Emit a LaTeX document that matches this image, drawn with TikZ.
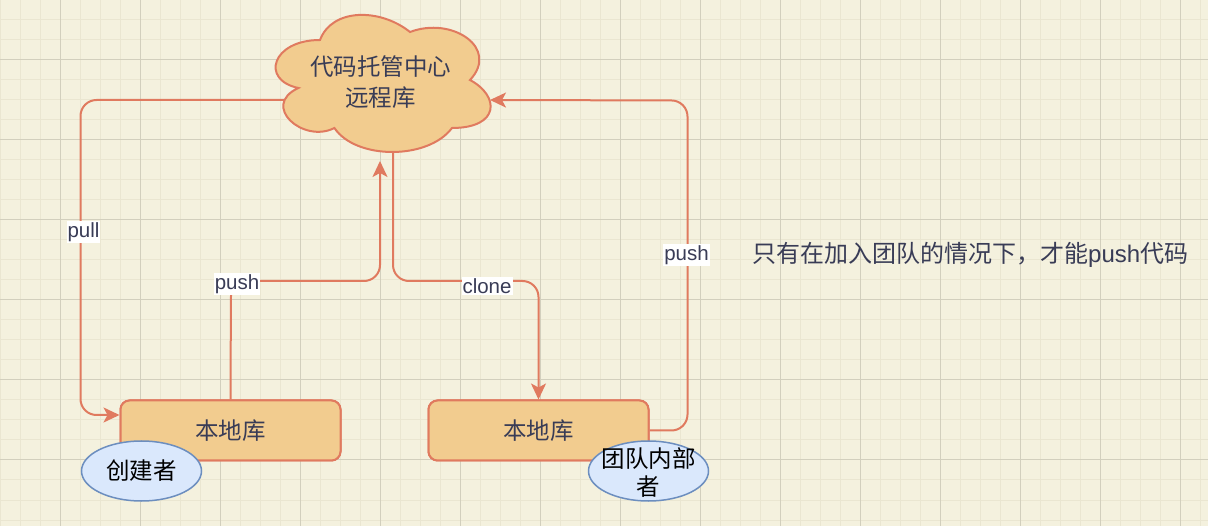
\documentclass[tikz,border=0pt]{standalone}
\usepackage{fontspec}
\setmainfont{Liberation Sans}
\newfontfamily\cjk{Noto Sans CJK SC}
\usetikzlibrary{arrows.meta,shapes.geometric,calc}
\definecolor{bgc}{HTML}{F4F1DE}
\definecolor{minorc}{HTML}{EAE6D1}
\definecolor{majorc}{HTML}{D2CFBD}
\definecolor{linec}{HTML}{E07A5F}
\definecolor{boxc}{HTML}{F2CC8F}
\definecolor{txtc}{HTML}{393C56}
\definecolor{ellf}{HTML}{DAE8FC}
\definecolor{elld}{HTML}{6C8EBF}
\begin{document}
\begin{tikzpicture}[x=1pt,y=-1pt,
  conn/.style={draw=linec, line width=2pt, rounded corners=16pt},
  arr/.style={-{Stealth[length=16pt,width=15pt,inset=4pt]}},
  lbl/.style={fill=white, inner sep=1pt, text=txtc, font=\fontsize{20.5}{24}\selectfont},
  localbox/.style={draw=linec, fill=boxc, line width=2pt, rounded corners=9pt,
    minimum width=220pt, minimum height=60pt, inner sep=0pt, text=txtc,
    font=\cjk\fontsize{23.5}{28}\selectfont},
  role/.style={ellipse, draw=elld, fill=ellf, line width=1.5pt, minimum width=120pt,
    minimum height=60pt, inner sep=0pt},
  roletext/.style={text=black, align=center, inner sep=0pt,
    font=\cjk\fontsize{23.5}{28}\selectfont},
  note/.style={text=txtc, font=\fontsize{24}{28}\selectfont, inner sep=0pt}
]
% background and grid
\fill[bgc] (0,0) rectangle (1208,526);
\useasboundingbox (0,0) rectangle (1208,526);
\foreach \x in {0,20,...,1200} \draw[minorc, line width=1pt] (\x,0) -- (\x,526);
\foreach \y in {0,20,...,520} \draw[minorc, line width=1pt] (0,\y) -- (1208,\y);
\foreach \x in {60,140,...,1180} \draw[majorc, line width=1pt] (\x,0) -- (\x,526);
\foreach \y in {60,140,...,460} \draw[majorc, line width=1pt] (0,\y) -- (1208,\y);

% nodes
\node[localbox] (lbox) at (230.5,430.5) {本地库};
\node[localbox] (rbox) at (538.5,430.5) {本地库};
\node[minimum width=240pt, minimum height=160pt, inner sep=0pt] (cloud) at (380,80) {};
\coordinate (cloudL) at (286,100);
\coordinate (cloudR) at (490,100);
\coordinate (cloudB1) at (380,161);
\coordinate (cloudB2) at (393,148);

% connectors (drawn under the shapes)
\draw[conn,arr] (cloudL) -- (80.5,100) -- (80.5,415) -- ($(lbox.west)+(0,-15.5)$);
\draw[conn,arr] (lbox.north) -- (231,281) -- (380,281) -- (cloudB1);
\draw[conn,arr] (cloudB2) -- (393,281) -- (538.5,281) -- (rbox.north);
\draw[conn,arr] (rbox.east) -- (687.5,430.5) -- (687.5,100.5) -- (cloudR);

% cloud shape
\filldraw[draw=linec, fill=boxc, line width=2pt]
  (320,40) .. controls (272,40) and (260,80) .. (298.4,88)
  .. controls (260,105.6) and (303.2,144) .. (334.4,128)
  .. controls (356,160) and (428,160) .. (452,128)
  .. controls (500,128) and (500,96) .. (470,80)
  .. controls (500,48) and (452,16) .. (410,32)
  .. controls (380,8) and (332,8) .. (320,40) -- cycle;
\node[text=txtc, align=center, font=\cjk\fontsize{23.5}{31}\selectfont, inner sep=0pt] (cloudtext) at (380.5,82) {代码托管中心\\远程库};

% redraw box fills on top of connector ends
\node[localbox] at (lbox) {本地库};
\node[localbox] at (rbox) {本地库};

% roles
\node[role] (creator) at (141.5,471) {};
\node[roletext] (creatortext) at (creator) {创建者};
\node[role] (member) at (648.5,471) {};
\node[roletext] (membertext) at (648.5,472.5) {团队内部\\者};

% labels
\node[lbl] (pull) at (83.5,232) {pull};
\node[lbl] (pushL) at (237,284) {push};
\node[lbl] (clone) at (487,286) {clone};
\node[lbl] (pushR) at (686.5,255) {push};
\node[note, anchor=west] (note) at (752,255) {{\cjk 只有在加入团队的情况下，才能}push{\cjk 代码}};
\end{tikzpicture}
\end{document}
